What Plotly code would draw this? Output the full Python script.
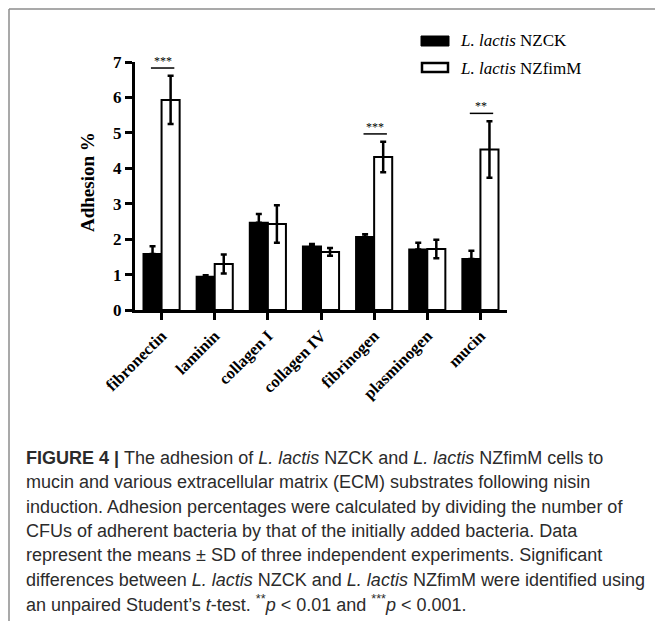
import plotly.graph_objects as go

categories = ["fibronectin", "laminin", "collagen I", "collagen IV",
              "fibrinogen", "plasminogen", "mucin"]
nzck_mean = [1.58, 0.94, 2.46, 1.79, 2.06, 1.71, 1.44]
nzck_sd = [0.22, 0.04, 0.25, 0.07, 0.08, 0.19, 0.23]
nzfimm_mean = [5.93, 1.30, 2.43, 1.64, 4.32, 1.72, 4.53]
nzfimm_sd = [0.68, 0.27, 0.53, 0.11, 0.43, 0.26, 0.80]
sig_index = [0, 4, 6]
sig_label = ["***", "***", "**"]
y_ticks = [0, 1, 2, 3, 4, 5, 6, 7]
series_names = ["<i>L. lactis</i> NZCK", "<i>L. lactis</i> NZfimM"]
caption_lines = [
    "<b>FIGURE 4 | </b>The adhesion of <i>L. lactis</i> NZCK and <i>L. lactis</i> NZfimM cells to",
    "mucin and various extracellular matrix (ECM) substrates following nisin",
    "induction. Adhesion percentages were calculated by dividing the number of",
    "CFUs of adherent bacteria by that of the initially added bacteria. Data",
    "represent the means \u00b1 SD of three independent experiments. Significant",
    "differences between <i>L. lactis</i> NZCK and <i>L. lactis</i> NZfimM were identified using",
    "an unpaired Student\u2019s <i>t</i>-test. <sup>**</sup><i>p</i> &lt; 0.01 and <sup>***</sup><i>p</i> &lt; 0.001.",
]

W, H = 655, 621
L, R, T, B = 135, 148, 62, 311
PW, PH = W - L - R, H - T - B


def px(xp):
    return (xp - L) / PW


def py(yp):
    return 1 - (yp - T) / PH


SERIF = "Liberation Serif, Times New Roman, serif"
SANS = "Liberation Sans, Arial, sans-serif"

fig = go.Figure()
fig.add_trace(go.Bar(
    x=categories, y=nzck_mean, name=series_names[0],
    marker=dict(color="black", line=dict(color="black", width=2)),
    error_y=dict(type="data", array=nzck_sd, arrayminus=[0] * len(nzck_sd),
                 symmetric=False, color="black", thickness=2.5, width=3),
    showlegend=False,
))
fig.add_trace(go.Bar(
    x=categories, y=nzfimm_mean, name=series_names[1],
    marker=dict(color="white", line=dict(color="black", width=2)),
    error_y=dict(type="data", array=nzfimm_sd, color="black", thickness=2.5, width=3),
    showlegend=False,
))

shapes = []
annotations = []
for i, lab in zip(sig_index, sig_label):
    top = nzfimm_mean[i] + nzfimm_sd[i] + 0.22
    shapes.append(dict(type="line", xref="x", yref="y", x0=i - 0.2, x1=i + 0.24,
                       y0=top, y1=top, line=dict(color="black", width=1.5)))
    annotations.append(dict(xref="x", yref="y", x=i + 0.02, y=top, text=lab,
                            showarrow=False, yanchor="bottom", yshift=-2,
                            font=dict(family=SERIF, size=12, color="black")))

# legend (manual)
shapes.append(dict(type="rect", xref="paper", yref="paper",
                   x0=px(421), x1=px(449), y0=py(46), y1=py(36),
                   fillcolor="black", line=dict(color="black", width=1)))
shapes.append(dict(type="rect", xref="paper", yref="paper",
                   x0=px(422), x1=px(448), y0=py(72), y1=py(63),
                   fillcolor="white", line=dict(color="black", width=2.5)))
for name, yy in zip(series_names, [41, 68]):
    annotations.append(dict(xref="paper", yref="paper", x=px(458), y=py(yy),
                            text=name, showarrow=False, xanchor="left", yanchor="middle",
                            font=dict(family=SERIF, size=17, color="black")))

# y-axis title
annotations.append(dict(xref="paper", yref="paper", x=px(87), y=py(182),
                        text="<b>Adhesion %</b>", showarrow=False, textangle=-90,
                        xanchor="center", yanchor="middle",
                        font=dict(family=SERIF, size=19, color="black")))

# frame
shapes.append(dict(type="line", xref="paper", yref="paper", x0=px(9), x1=px(655),
                   y0=py(9), y1=py(9), line=dict(color="#8c8c8c", width=1.5)))
shapes.append(dict(type="line", xref="paper", yref="paper", x0=px(9), x1=px(9),
                   y0=py(9), y1=py(621), line=dict(color="#8c8c8c", width=1.5)))

# caption
for k, line in enumerate(caption_lines):
    annotations.append(dict(xref="paper", yref="paper", x=px(24), y=py(458 + k * 24.3),
                            text=line, showarrow=False, xanchor="left", yanchor="middle",
                            font=dict(family=SANS, size=18, color="#2b2b2b")))

fig.update_layout(
    width=W, height=H,
    margin=dict(l=L, r=R, t=T, b=B, pad=0),
    paper_bgcolor="white", plot_bgcolor="white",
    barmode="group", bargap=0.32, bargroupgap=0,
    shapes=shapes, annotations=annotations,
    xaxis=dict(type="category", range=[-0.5, 6.5], showline=True, linecolor="black",
               linewidth=2.5, ticks="outside", ticklen=7, tickwidth=2.5, tickcolor="black",
               tickangle=-45, showgrid=False, zeroline=False,
               tickfont=dict(family=SERIF, size=16.5, color="black", weight="bold")),
    yaxis=dict(range=[0, 7], tickvals=y_ticks, showline=True, linecolor="black",
               linewidth=3, ticks="outside", ticklen=7, tickwidth=2.5, tickcolor="black",
               showgrid=False, zeroline=False,
               tickfont=dict(family=SERIF, size=17, color="black", weight="bold")),
)

fig.write_html("out.html", config={"displayModeBar": False},
               post_script="document.body.style.margin='0';")
